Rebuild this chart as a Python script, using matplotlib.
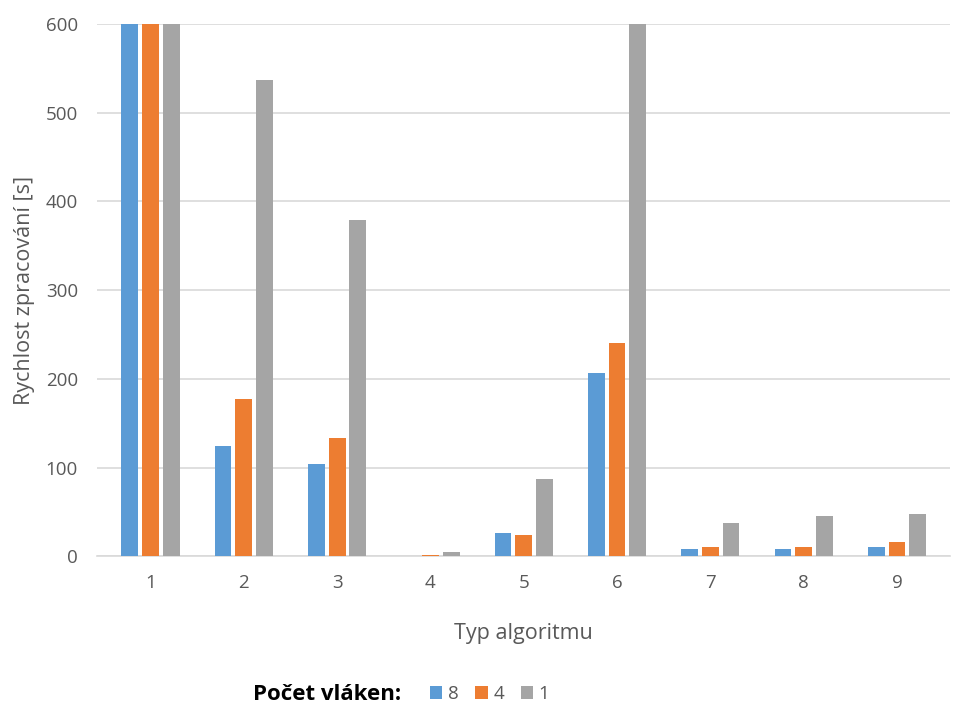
import matplotlib
matplotlib.use("Agg")
import matplotlib.pyplot as plt
import numpy as np

# Doba zpracování podle typu algoritmu a počtu vláken
algoritmy = ["1", "2", "3", "4", "5", "6", "7", "8", "9"]
vlakna_8 = [600, 124, 104, 0.3, 26, 207, 8, 8.5, 10.4]
vlakna_4 = [600, 177, 133, 1, 24, 240, 10.7, 11, 15.6]
vlakna_1 = [600, 537, 379, 4.5, 87, 600, 37.4, 45, 47.6]

serie = [("8", vlakna_8, "#5B9BD5"),
         ("4", vlakna_4, "#ED7D31"),
         ("1", vlakna_1, "#A5A5A5")]

plt.rcParams["font.family"] = ["Open Sans", "DejaVu Sans"]
text_col = "#595959"

fig = plt.figure(figsize=(9.54, 7.06), dpi=100)
ax = fig.add_axes([0.102, 0.212, 0.894, 0.754])

x = np.arange(len(algoritmy))
sirka = 0.18
krok = 0.222
for i, (nazev, hodnoty, barva) in enumerate(serie):
    ax.bar(x + (i - 1) * krok, hodnoty, width=sirka, color=barva,
           label=nazev, zorder=3)

ax.set_ylim(0, 600)
ax.set_xlim(-0.57, len(algoritmy) - 0.43)
ax.set_yticks(range(0, 601, 100))
ax.set_xticks(x)
ax.set_xticklabels(algoritmy)
ax.yaxis.grid(True, color="#D9D9D9", linewidth=1.2, zorder=0)
ax.tick_params(axis="both", length=0, labelsize=13.5, colors=text_col)
ax.tick_params(axis="x", pad=13)
ax.tick_params(axis="y", pad=14)
for s in ["top", "right", "left"]:
    ax.spines[s].set_visible(False)
ax.spines["bottom"].set_color("#D9D9D9")
ax.spines["bottom"].set_linewidth(1.2)

ax.set_ylabel("Rychlost zpracování [s]", fontsize=15.5, color=text_col, labelpad=8)
ax.set_xlabel("Typ algoritmu", fontsize=15.5, color=text_col, labelpad=22)

fig.text(0.42, 0.002, "Počet vláken:", fontsize=16, fontweight="bold",
         color="black", ha="right", va="bottom")
leg = fig.legend(loc="lower left", bbox_to_anchor=(0.433, -0.02), ncol=3,
                 frameon=False, fontsize=13.5, handlelength=0.65,
                 handleheight=0.65, handletextpad=0.3, columnspacing=0.9)
for t in leg.get_texts():
    t.set_color(text_col)

fig.savefig("out.png", dpi=100)
